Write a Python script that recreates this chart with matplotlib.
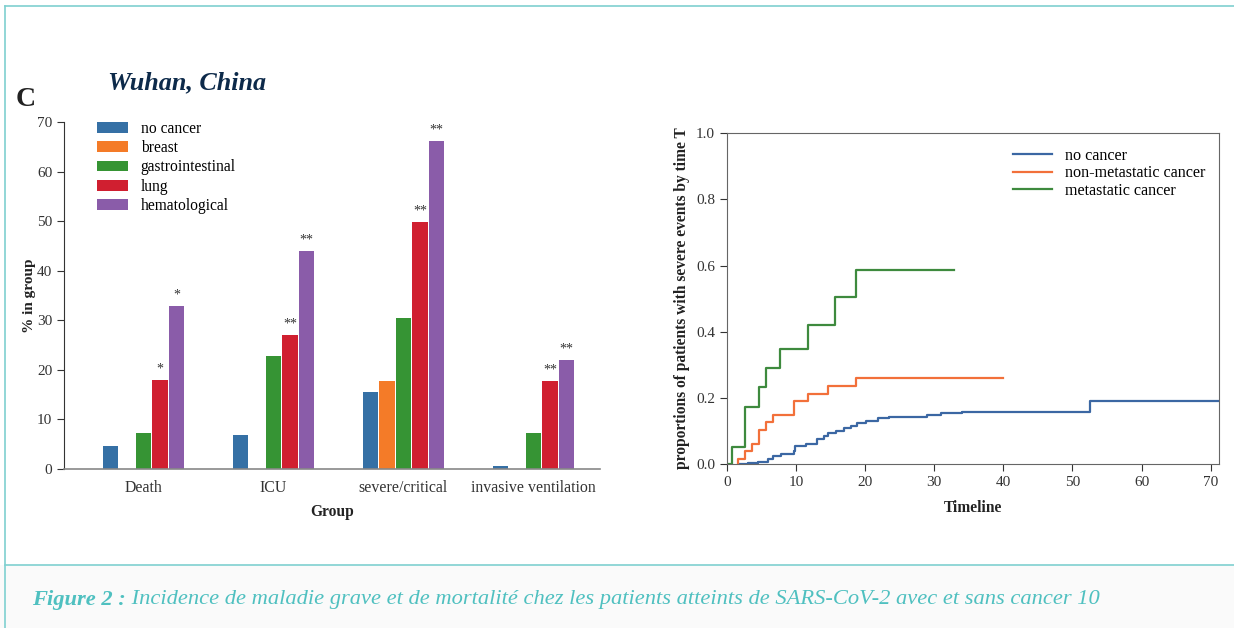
import numpy as np
import matplotlib.pyplot as plt
from matplotlib.lines import Line2D
from matplotlib.patches import Rectangle

plt.rcParams['font.family'] = ['Liberation Serif', 'DejaVu Serif']

# ---- bar chart data (Wuhan, China) ----
groups = ["Death", "ICU", "severe/critical", "invasive ventilation"]
series = ["no cancer", "breast", "gastrointestinal", "lung", "hematological"]
no_cancer = [4.7, 6.9, 15.6, 0.7]
breast = [0, 0, 17.8, 0]
gastro = [7.3, 22.8, 30.4, 7.3]
lung = [18.0, 27.0, 49.8, 17.8]
hemato = [32.8, 43.9, 66.1, 22.0]
stars_lung = ["*", "**", "**", "**"]
stars_hemato = ["*", "**", "**", "**"]
bar_colors = ["#3570a5", "#f47b28", "#369434", "#d01f30", "#8a5ca9"]

# ---- cumulative incidence data (step curves) ----
t_meta = [0, 0.7, 2.7, 4.7, 5.7, 7.7, 11.7, 15.7, 18.7, 32.8]
p_meta = [0, 0.053, 0.172, 0.232, 0.29, 0.349, 0.42, 0.505, 0.586, 0.586]
t_nonmeta = [1.6, 1.65, 2.7, 3.7, 4.7, 5.7, 6.7, 9.7, 11.7, 14.7, 18.7, 40.0]
p_nonmeta = [0, 0.015, 0.04, 0.062, 0.103, 0.126, 0.147, 0.191, 0.213, 0.236, 0.259, 0.259]
t_nocan = [1.7, 3.0, 4.5, 5.9, 6.7, 7.8, 9.7, 9.8, 11.4, 13.0, 14.1, 14.7, 15.8,
           16.9, 18.0, 18.8, 20.2, 21.8, 23.5, 29.0, 31.0, 34.0, 52.6, 71.3]
p_nocan = [0, 0.002, 0.005, 0.015, 0.025, 0.032, 0.04, 0.055, 0.06, 0.075, 0.085,
           0.095, 0.10, 0.11, 0.115, 0.125, 0.13, 0.14, 0.143, 0.148, 0.153, 0.157,
           0.19, 0.19]

fig = plt.figure(figsize=(12.34, 6.28), dpi=100)
fig.patch.set_facecolor("white")

# frame and caption band
teal = "#7fd0d0"
fig.add_artist(Rectangle((0, 0), 1, 0.1003, transform=fig.transFigure,
                         facecolor="#fafafa", edgecolor="none", zorder=-1))
fig.add_artist(Line2D([0.004, 0.004], [0, 0.99], color=teal, lw=1.2))
fig.add_artist(Line2D([0.004, 1], [0.99, 0.99], color=teal, lw=1.2))
fig.add_artist(Line2D([0.004, 1], [0.1003, 0.1003], color=teal, lw=1.2))

# ---- left: bars ----
ax1 = fig.add_axes([0.0519, 0.2532, 0.4341, 0.5525])
x = np.arange(len(groups))
step = 0.127
all_vals = [no_cancer, breast, gastro, lung, hemato]
for i, (name, vals) in enumerate(zip(series, all_vals)):
    ax1.bar(x + (i - 2) * step, vals, width=step * 0.94, color=bar_colors[i],
            label=name, zorder=2)
for j in range(len(groups)):
    ax1.text(x[j] + 1 * step, lung[j] + 0.9, stars_lung[j], ha="center",
             va="bottom", fontsize=10, color="#333333")
    ax1.text(x[j] + 2 * step, hemato[j] + 0.9, stars_hemato[j], ha="center",
             va="bottom", fontsize=10, color="#333333")

ax1.set_xlim(-0.61, 3.51)
ax1.set_ylim(0, 70)
ax1.set_yticks(range(0, 71, 10))
ax1.set_xticks(x)
ax1.set_xticklabels(groups)
ax1.tick_params(axis="x", length=0, labelsize=11.4, pad=8, colors="#333333")
ax1.tick_params(axis="y", length=5, labelsize=11, colors="#333333")
for s in ["top", "right"]:
    ax1.spines[s].set_visible(False)
ax1.spines["left"].set_color("#333333")
ax1.spines["bottom"].set_color("#888888")
ax1.spines["bottom"].set_linewidth(1.2)
ax1.set_ylabel("% in group", fontsize=11, fontweight="bold", color="#222222", labelpad=1)
ax1.set_xlabel("Group", fontsize=11.2, fontweight="bold", color="#222222", labelpad=6)
ax1.legend(loc="upper left", bbox_to_anchor=(0.05, 1.022), frameon=False,
           fontsize=11.2, handlelength=2.0, handleheight=0.7, labelspacing=0.22,
           handletextpad=0.8, borderaxespad=0)

fig.text(0.0875, 0.858, "Wuhan, China", fontsize=18.8, fontweight="bold",
         fontstyle="italic", color="#0d2a4a")
fig.text(0.013, 0.832, "C", fontsize=20, fontweight="bold", color="#222222")

# ---- right: step curves ----
ax2 = fig.add_axes([0.589, 0.261, 0.3988, 0.527])
ax2.step(t_nocan, p_nocan, where="post", color="#3b67a3", lw=1.6, label="no cancer")
ax2.step(t_nonmeta, p_nonmeta, where="post", color="#f2703a", lw=1.6,
         label="non-metastatic cancer")
ax2.step(t_meta, p_meta, where="post", color="#3e8a3e", lw=1.6, label="metastatic cancer")
ax2.set_xlim(0, 71.2)
ax2.set_ylim(0, 1.0)
ax2.set_xticks(range(0, 71, 10))
ax2.set_yticks([0, 0.2, 0.4, 0.6, 0.8, 1.0])
ax2.set_yticklabels(["0.0", "0.2", "0.4", "0.6", "0.8", "1.0"])
ax2.tick_params(length=5, labelsize=11, colors="#333333")
for s in ax2.spines.values():
    s.set_color("#666666")
ax2.set_ylabel("proportions of patients with severe events by time T", fontsize=11.2,
               fontweight="bold", color="#222222")
ax2.set_xlabel("Timeline", fontsize=11.2, fontweight="bold", color="#222222", labelpad=8)
ax2.legend(loc="upper right", bbox_to_anchor=(0.985, 0.975), frameon=False,
           fontsize=11.6, handlelength=2.4, labelspacing=0.1, handletextpad=0.8,
           borderaxespad=0)

# caption
cap_color = "#4fc0c0"
t1 = fig.text(0.026, 0.045, "Figure 2 :", fontsize=16.2, fontweight="bold",
              fontstyle="italic", color=cap_color, va="center")
ax2.annotate(" Incidence de maladie grave et de mortalité chez les patients atteints "
             "de SARS-CoV-2 avec et sans cancer 10",
             xy=(1, 0.5), xycoords=t1, va="center", ha="left", fontsize=16.2,
             fontstyle="italic", color=cap_color, annotation_clip=False)

fig.savefig("out.png", dpi=100)
